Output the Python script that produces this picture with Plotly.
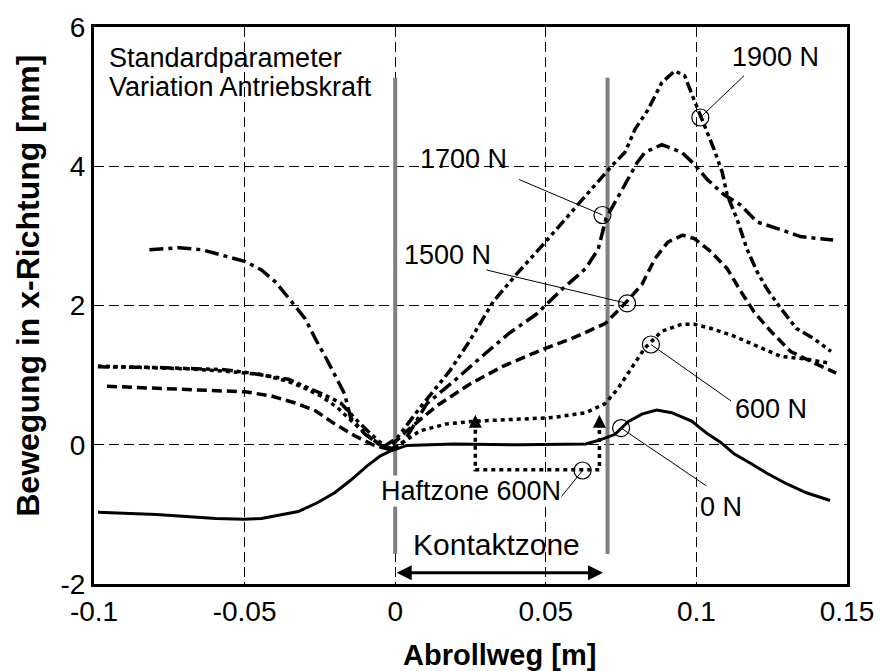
import plotly.graph_objects as go

# ---------------- data ----------------
x_0N = [-0.0987, -0.0793, -0.0595, -0.0503, -0.0444, -0.0378, -0.0322, -0.0257, -0.0201, -0.0148,
        -0.0092, -0.0049, -0.0016, 0.0039, 0.0194, 0.0411, 0.0632, 0.0674, 0.0730, 0.0773,
        0.0819, 0.0868, 0.0918, 0.0984, 0.1036, 0.1082, 0.1125, 0.1181, 0.1234, 0.1299, 0.1365, 0.1444]
y_0N = [-0.97, -1.00, -1.06, -1.07, -1.06, -1.01, -0.96, -0.83, -0.69, -0.51,
        -0.30, -0.16, -0.09, -0.01, 0.01, 0.00, 0.01, 0.06, 0.15, 0.33,
        0.44, 0.50, 0.46, 0.34, 0.16, 0.03, -0.13, -0.27, -0.41, -0.56, -0.69, -0.80]

x_600N = [-0.0987, -0.0793, -0.0684, -0.0576, -0.0497, -0.0444, -0.0355, -0.0299, -0.0247, -0.0191,
          -0.0135, -0.0082, -0.0036, -0.0003, 0.0082, 0.0171, 0.0270, 0.0411, 0.0523, 0.0632,
          0.0697, 0.0740, 0.0786, 0.0829, 0.0885, 0.0951, 0.0993, 0.1049, 0.1125, 0.1214,
          0.1280, 0.1365, 0.1444]
y_600N = [1.13, 1.10, 1.09, 1.06, 1.03, 1.01, 0.91, 0.81, 0.70, 0.53,
          0.30, 0.10, -0.04, -0.05, 0.20, 0.30, 0.34, 0.37, 0.39, 0.46,
          0.59, 0.81, 1.10, 1.39, 1.63, 1.73, 1.73, 1.67, 1.56, 1.39,
          1.27, 1.23, 1.17]

x_1500N = [-0.0957, -0.0793, -0.0628, -0.0497, -0.0411, -0.0332, -0.0266, -0.0201, -0.0135, -0.0069,
           -0.0026, 0.0039, 0.0138, 0.0247, 0.0359, 0.0490, 0.0589, 0.0697, 0.0763, 0.0819,
           0.0862, 0.0905, 0.0954, 0.0993, 0.1049, 0.1102, 0.1148, 0.1191, 0.1247, 0.1313,
           0.1378, 0.1464]
y_1500N = [0.84, 0.81, 0.79, 0.76, 0.70, 0.60, 0.49, 0.30, 0.13, -0.01,
           -0.06, 0.20, 0.56, 0.87, 1.13, 1.37, 1.53, 1.74, 2.03, 2.30,
           2.67, 2.91, 3.01, 2.96, 2.77, 2.53, 2.20, 1.91, 1.63, 1.34,
           1.20, 1.03]

x_1700N = [-0.0816, -0.0717, -0.0641, -0.0553, -0.0497, -0.0444, -0.0398, -0.0345, -0.0299, -0.0266,
           -0.0224, -0.0168, -0.0148, -0.0102, -0.0049, -0.0016, 0.0030, 0.0105, 0.0194, 0.0280,
           0.0378, 0.0467, 0.0556, 0.0632, 0.0674, 0.0700, 0.0753, 0.0803, 0.0829, 0.0885,
           0.0951, 0.0993, 0.1036, 0.1092, 0.1148, 0.1201, 0.1280, 0.1345, 0.1454]
y_1700N = [2.80, 2.83, 2.80, 2.70, 2.63, 2.51, 2.34, 2.06, 1.81, 1.53,
           1.20, 0.73, 0.39, 0.16, -0.01, -0.07, 0.05, 0.59, 0.91, 1.24,
           1.60, 1.87, 2.24, 2.53, 2.81, 3.25, 3.67, 4.05, 4.20, 4.31,
           4.20, 4.03, 3.81, 3.59, 3.44, 3.20, 3.09, 2.99, 2.94]

x_1900N = [-0.0987, -0.0793, -0.0576, -0.0497, -0.0355, -0.0247, -0.0181, -0.0125, -0.0082, -0.0036,
           0.0007, 0.0082, 0.0181, 0.0247, 0.0326, 0.0411, 0.0490, 0.0576, 0.0664, 0.0720,
           0.0763, 0.0796, 0.0839, 0.0885, 0.0928, 0.0961, 0.0987, 0.1016, 0.1033, 0.1059,
           0.1086, 0.1102, 0.1135, 0.1168, 0.1201, 0.1234, 0.1280, 0.1332, 0.1388, 0.1447]
y_1900N = [1.12, 1.11, 1.08, 1.04, 0.94, 0.74, 0.60, 0.34, 0.16, -0.02,
           0.10, 0.53, 1.06, 1.49, 2.06, 2.49, 2.87, 3.30, 3.73, 4.01,
           4.20, 4.53, 4.81, 5.20, 5.37, 5.30, 5.01, 4.70, 4.49, 4.24,
           3.91, 3.59, 3.24, 2.81, 2.49, 2.24, 1.96, 1.67, 1.53, 1.34]

# contact zone (grey vertical lines)
contact_x = [0.0, 0.0705]
contact_y = [-1.57, 5.27]

# adhesion zone (Haftzone 600N) dotted bracket
haft_x = [0.0266, 0.0678]
haft_y_low = -0.36
haft_y_top = 0.43

# Kontaktzone arrow
kontakt_arrow_y = -1.84

# labels: text, text position, leader end near text, circle position
label_text = ["1900 N", "1700 N", "1500 N", "600 N", "0 N", "Haftzone 600N"]
label_x = [0.1263, 0.0227, 0.0174, 0.1247, 0.1082, 0.0250]
label_y = [5.57, 4.10, 2.73, 0.51, -0.89, -0.66]
leader_x = [0.1158, 0.0411, 0.0303, 0.1115, 0.1033, 0.0549]
leader_y = [5.30, 3.81, 2.51, 0.63, -0.59, -0.76]
circle_x = [0.1013, 0.0688, 0.0770, 0.0849, 0.0750, 0.0622]
circle_y = [4.70, 3.30, 2.03, 1.44, 0.24, -0.37]

x_ticks = [-0.1, -0.05, 0, 0.05, 0.1, 0.15]
x_ticktext = ["-0.1", "-0.05", "0", "0.05", "0.1", "0.15"]
y_ticks = [-2, 0, 2, 4, 6]
y_ticktext = ["-2", "0", "2", "4", "6"]

FONT = "Liberation Sans, Arial, Helvetica, sans-serif"
FS = 27

fig = go.Figure()

# grey contact-zone lines
for cx in contact_x:
    fig.add_trace(go.Scatter(x=[cx, cx], y=contact_y, mode="lines",
                             line=dict(color="#808080", width=4), showlegend=False, hoverinfo="skip"))

# curves
curves = [
    (x_0N, y_0N, "solid", 3),
    (x_600N, y_600N, "4px,4px", 3.5),
    (x_1500N, y_1500N, "10px,5px", 3.5),
    (x_1700N, y_1700N, "14px,5px,4px,5px", 3.5),
    (x_1900N, y_1900N, "11px,4px,4px,4px,4px,4px", 3.5),
]
for xs, ys, dash, w in curves:
    fig.add_trace(go.Scatter(x=xs, y=ys, mode="lines",
                             line=dict(color="black", width=w, dash=dash),
                             showlegend=False, hoverinfo="skip"))

# Haftzone dotted bracket
fig.add_trace(go.Scatter(
    x=[haft_x[0], haft_x[0], haft_x[1], haft_x[1]],
    y=[haft_y_top - 0.1, haft_y_low, haft_y_low, haft_y_top - 0.1],
    mode="lines", line=dict(color="black", width=3.5, dash="4px,4px"),
    showlegend=False, hoverinfo="skip"))

# leader lines
for i in range(len(label_text)):
    fig.add_trace(go.Scatter(x=[leader_x[i], circle_x[i]], y=[leader_y[i], circle_y[i]],
                             mode="lines", line=dict(color="black", width=1),
                             showlegend=False, hoverinfo="skip"))
# circles
fig.add_trace(go.Scatter(x=circle_x, y=circle_y, mode="markers",
                         marker=dict(symbol="circle-open", size=17, color="black", line=dict(width=1.2)),
                         showlegend=False, hoverinfo="skip"))

annotations = []
for i, t in enumerate(label_text):
    a = dict(x=label_x[i], y=label_y[i], xref="x", yref="y", text=t, showarrow=False,
             font=dict(family=FONT, size=FS, color="black"))
    if t.startswith("Haftzone"):
        a.update(bgcolor="white", borderpad=0)
    annotations.append(a)

# Haftzone arrowheads
for hx in haft_x:
    annotations.append(dict(x=hx, y=haft_y_top, xref="x", yref="y", ax=0, ay=14,
                            text="", showarrow=True, arrowhead=2, arrowwidth=2.6,
                            arrowsize=1, arrowcolor="black"))

# Kontaktzone arrow
annotations.append(dict(x=contact_x[1] - 0.0015, y=kontakt_arrow_y, xref="x", yref="y",
                        ax=contact_x[0], ay=kontakt_arrow_y, axref="x", ayref="y",
                        text="", showarrow=True, arrowhead=2, startarrowhead=2,
                        arrowside="end+start", arrowwidth=3, arrowsize=1, startarrowsize=1,
                        arrowcolor="black"))
annotations.append(dict(x=0.0336, y=-1.43, xref="x", yref="y", text="Kontaktzone",
                        showarrow=False, font=dict(family=FONT, size=30, color="black")))

# Header text
annotations.append(dict(x=0.017, y=0.945, xref="paper", yref="paper", xanchor="left",
                        yanchor="middle", text="Standardparameter", showarrow=False,
                        font=dict(family=FONT, size=FS, color="black")))
annotations.append(dict(x=0.017, y=0.893, xref="paper", yref="paper", xanchor="left",
                        yanchor="middle", text="Variation Antriebskraft", showarrow=False,
                        font=dict(family=FONT, size=FS, color="black")))

# Axis titles (as annotations for exact placement)
annotations.append(dict(x=0.538, y=-0.127, xref="paper", yref="paper", xanchor="center",
                        yanchor="middle", text="Abrollweg [m]", showarrow=False,
                        font=dict(family=FONT, size=29, color="black", weight="bold")))
annotations.append(dict(x=-0.088, y=0.535, xref="paper", yref="paper", xanchor="center",
                        yanchor="middle", text="Bewegung in x-Richtung [mm]", showarrow=False,
                        textangle=-90,
                        font=dict(family=FONT, size=32, color="black", weight="bold")))

fig.update_layout(
    width=886, height=671,
    margin=dict(l=94, r=32, t=24, b=87),
    paper_bgcolor="white", plot_bgcolor="white",
    annotations=annotations,
    font=dict(family=FONT, color="black"),
)

fig.update_xaxes(
    range=[-0.1, 0.15], tickvals=x_ticks, ticktext=x_ticktext,
    showgrid=True, gridcolor="black", gridwidth=1, griddash="10px,5px",
    zeroline=False, showline=True, mirror=True, linecolor="black", linewidth=3,
    ticks="", tickfont=dict(family=FONT, size=28, color="black"),
)
fig.update_yaxes(
    range=[-2, 6], tickvals=y_ticks, ticktext=y_ticktext,
    showgrid=True, gridcolor="black", gridwidth=1, griddash="10px,5px",
    zeroline=False, showline=True, mirror=True, linecolor="black", linewidth=3,
    ticks="", tickfont=dict(family=FONT, size=28, color="black"),
)

fig.write_html("out.html")
